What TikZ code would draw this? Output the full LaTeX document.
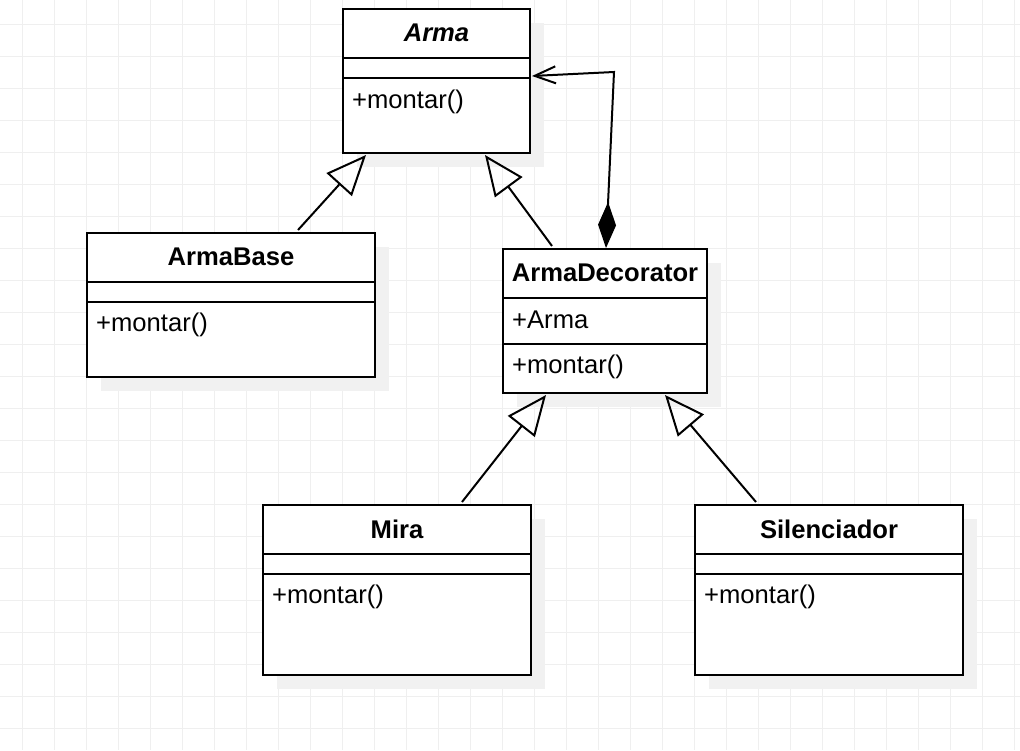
\documentclass[tikz,border=0pt]{standalone}
\usepackage{fontspec}
\setmainfont{Liberation Sans}
\usetikzlibrary{arrows.meta,calc,shadows}
\definecolor{gridc}{HTML}{EFEFEF}
\definecolor{shadc}{HTML}{F1F1F1}
\begin{document}
\begin{tikzpicture}[x=1pt,y=-1pt,
  umlbox/.style={draw,line width=2pt,fill=white,inner sep=0pt,anchor=north west,
    drop shadow={shadow xshift=14pt,shadow yshift=-14pt,fill=shadc,opacity=1,draw=none}},
  ttl/.style={font=\fontsize{25.6}{30}\selectfont\bfseries,inner sep=0pt},
  mem/.style={font=\fontsize{25.6}{30}\selectfont,inner sep=0pt,anchor=west},
  divl/.style={line width=2pt},
  inh/.style={line width=2pt,-{Triangle[open,length=40pt,width=34pt,line width=2pt]}},
  comp/.style={line width=2pt,{Diamond[length=46pt,width=18pt]}-{Straight Barb[length=21pt,width=17pt,line width=2pt]}}
]
\useasboundingbox (0,0) rectangle (1020,750);
\fill[white] (0,0) rectangle (1020,750);
\foreach \x in {22,54,...,1014} \draw[gridc,line width=1pt] (\x,0) -- (\x,750);
\foreach \y in {24,56,...,744} \draw[gridc,line width=1pt] (0,\y) -- (1020,\y);

% Arma
\node[umlbox,minimum width=187pt,minimum height=144pt] (arma) at (342,8) {};
\draw[divl] ($(arma.north west)+(0,50)$) -- ($(arma.north east)+(0,50)$);
\draw[divl] ($(arma.north west)+(0,70)$) -- ($(arma.north east)+(0,70)$);
\node[ttl,font=\fontsize{25.6}{30}\selectfont\bfseries\itshape] (armaT) at ($(arma.north)+(0,25)$) {Arma};
\node[mem] (armaM) at ($(arma.north west)+(10,94)$) {+montar()};

% ArmaBase
\node[umlbox,minimum width=288pt,minimum height=144pt] (base) at (86,232) {};
\draw[divl] ($(base.north west)+(0,50)$) -- ($(base.north east)+(0,50)$);
\draw[divl] ($(base.north west)+(0,70)$) -- ($(base.north east)+(0,70)$);
\node[ttl] (baseT) at ($(base.north)+(0,25)$) {ArmaBase};
\node[mem] (baseM) at ($(base.north west)+(10,93)$) {+montar()};

% ArmaDecorator
\node[umlbox,minimum width=204pt,minimum height=144pt] (deco) at (502,248) {};
\draw[divl] ($(deco.north west)+(0,50)$) -- ($(deco.north east)+(0,50)$);
\draw[divl] ($(deco.north west)+(0,96)$) -- ($(deco.north east)+(0,96)$);
\node[ttl] (decoT) at ($(deco.north)+(0,25)$) {ArmaDecorator};
\node[mem] (decoA) at ($(deco.north west)+(10,72)$) {+Arma};
\node[mem] (decoM) at ($(deco.north west)+(10,119)$) {+montar()};

% Mira
\node[umlbox,minimum width=268pt,minimum height=170pt] (mira) at (262,504) {};
\draw[divl] ($(mira.north west)+(0,50)$) -- ($(mira.north east)+(0,50)$);
\draw[divl] ($(mira.north west)+(0,70)$) -- ($(mira.north east)+(0,70)$);
\node[ttl] (miraT) at ($(mira.north)+(0,25)$) {Mira};
\node[mem] (miraM) at ($(mira.north west)+(10,93)$) {+montar()};

% Silenciador
\node[umlbox,minimum width=268pt,minimum height=170pt] (sil) at (694,504) {};
\draw[divl] ($(sil.north west)+(0,50)$) -- ($(sil.north east)+(0,50)$);
\draw[divl] ($(sil.north west)+(0,70)$) -- ($(sil.north east)+(0,70)$);
\node[ttl] (silT) at ($(sil.north)+(0,25)$) {Silenciador};
\node[mem] (silM) at ($(sil.north west)+(10,93)$) {+montar()};

% connection points
\coordinate (aB) at ($(arma.south west)+(24,1)$);
\coordinate (aD) at ($(arma.south west)+(143,1)$);
\coordinate (aR) at ($(arma.north east)+(1,68)$);
\coordinate (bT) at ($(base.north west)+(212,-2)$);
\coordinate (dT) at ($(deco.north west)+(50,-2)$);
\coordinate (dC) at ($(deco.north west)+(104,0)$);
\coordinate (dM) at ($(deco.south west)+(44,1)$);
\coordinate (dS) at ($(deco.south west)+(163,1)$);
\coordinate (mT) at ($(mira.north west)+(200,-2)$);
\coordinate (sT) at ($(sil.north west)+(62,-2)$);
\coordinate (bend) at (614,72);

\draw[inh] (bT) -- (aB);
\draw[inh] (dT) -- (aD);
\draw[inh] (mT) -- (dM);
\draw[inh] (sT) -- (dS);
\draw[comp] (dC) -- (bend) -- (aR);
\end{tikzpicture}
\end{document}
